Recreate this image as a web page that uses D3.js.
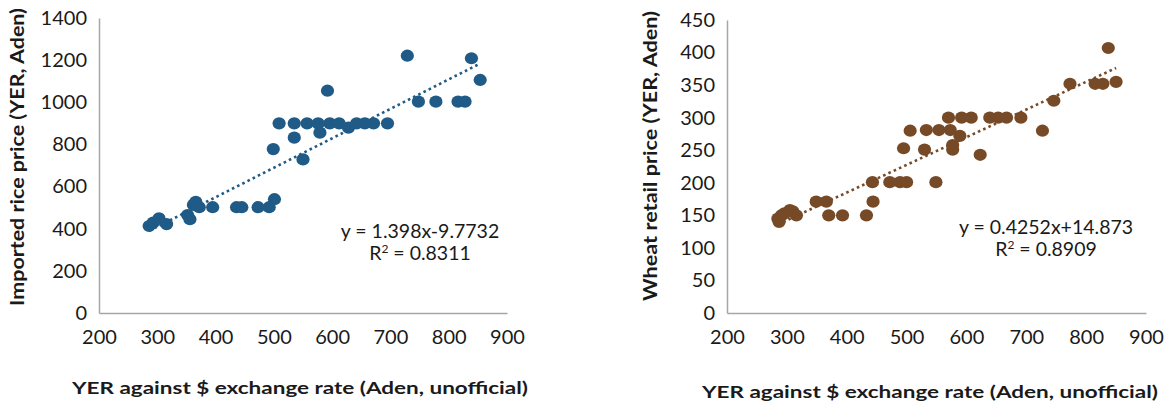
<!DOCTYPE html>
<html>
<head>
<meta charset="utf-8">
<script src="https://cdn.jsdelivr.net/npm/d3@7"></script>
<style>
  html, body { margin: 0; padding: 0; background: #fff; }
  svg { display: block; }
  text { font-family: "Lato", "Open Sans", sans-serif; fill: #1a1a1a; }
</style>
</head>
<body>
<svg id="chart" width="1169" height="404"></svg>
<script>
// Exchange rate (YER per $, Aden, unofficial) vs. imported rice price
const riceX = [286, 293, 303, 316, 352, 356, 362, 366, 372, 395, 436, 445, 473, 492, 501, 499,
               509, 535, 535, 550, 557, 576, 579, 592, 596, 612, 628, 642, 656, 671, 695, 729,
               748, 778, 816, 828, 839, 854];
const riceY = [413, 429, 449, 422, 465, 445, 513, 528, 502, 502, 502, 502, 502, 502, 540, 778,
               900, 832, 900, 729, 900, 900, 856, 1055, 900, 900, 880, 900, 900, 900, 900, 1221,
               1003, 1003, 1003, 1003, 1209, 1106];

// Exchange rate vs. wheat retail price
const wheatX = [285, 287, 291, 296, 305, 310, 316, 349, 366, 370, 393, 433, 444, 443, 472, 489,
                500, 549, 495, 506, 530, 533, 554, 573, 570, 577, 577, 589, 592, 608, 623, 639,
                653, 667, 691, 727, 746, 773, 815, 828, 837, 850];
const wheatY = [145, 140, 150, 153, 158, 156, 150, 171, 171, 150, 150, 150, 171, 201, 201, 201,
                201, 201, 253, 280, 251, 281, 281, 281, 300, 258, 251, 272, 300, 300, 243, 300,
                300, 300, 300, 280, 326, 352, 352, 352, 407, 355];

// Linear trend fits
const riceFit = { slope: 1.398, intercept: -9.7732, r2: "0.8311", eq: "y = 1.398x-9.7732" };
const wheatFit = { slope: 0.4252, intercept: 14.873, r2: "0.8909", eq: "y = 0.4252x+14.873" };

// Axis ticks
const xTicks = [200, 300, 400, 500, 600, 700, 800, 900];
const riceTicks = [0, 200, 400, 600, 800, 1000, 1200, 1400];
const wheatTicks = [0, 50, 100, 150, 200, 250, 300, 350, 400, 450];

const xTitle = "YER against $ exchange rate (Aden, unofficial)";

const svg = d3.select("#chart");

function panel(cfg) {
  const g = svg.append("g");
  const x = d3.scaleLinear().domain([200, 900]).range([cfg.left, cfg.right]);
  const y = d3.scaleLinear().domain([0, cfg.yMax]).range([cfg.bottom, cfg.top]);

  // y axis
  const ya = g.append("g").attr("transform", `translate(${cfg.left},0)`)
    .call(d3.axisLeft(y).tickValues(cfg.yTicks).tickFormat(d3.format("d")).tickSize(0).tickPadding(12));
  ya.select(".domain").attr("stroke", "#a6a6a6").attr("stroke-width", 1.5);
  ya.selectAll("text").style("font-size", "20px").style("font-family", "Lato, sans-serif").attr("fill", "#1a1a1a");

  // x axis
  const xa = g.append("g").attr("transform", `translate(0,${cfg.bottom})`)
    .call(d3.axisBottom(x).tickValues(xTicks).tickFormat(d3.format("d")).tickSize(0).tickPadding(17));
  xa.select(".domain").attr("stroke", "#a6a6a6").attr("stroke-width", 1.5);
  xa.selectAll("text").style("font-size", "20px").style("font-family", "Lato, sans-serif").attr("fill", "#1a1a1a");

  // points
  const pts = cfg.xs.map((v, i) => [v, cfg.ys[i]]);
  g.append("g").selectAll("ellipse").data(pts).join("ellipse")
    .attr("cx", d => x(d[0])).attr("cy", d => y(d[1]))
    .attr("rx", 6.6).attr("ry", 6.1)
    .attr("fill", cfg.color);

  // dotted trend line across the data range
  const [x0, x1] = d3.extent(cfg.xs);
  const f = v => cfg.fit.slope * v + cfg.fit.intercept;
  g.append("line")
    .attr("x1", x(x0)).attr("y1", y(f(x0)))
    .attr("x2", x(x1)).attr("y2", y(f(x1)))
    .attr("stroke", cfg.color).attr("stroke-width", 2.6)
    .attr("stroke-dasharray", "2.6,3.2");

  // equation labels
  g.append("text").attr("x", cfg.eqX).attr("y", cfg.eqY)
    .attr("text-anchor", "middle").style("font-size", "19.5px").text(cfg.fit.eq);
  const r = g.append("text").attr("x", cfg.eqX).attr("y", cfg.eqY + 22)
    .attr("text-anchor", "middle").style("font-size", "19.5px");
  r.append("tspan").text("R");
  r.append("tspan").attr("dy", -7).style("font-size", "12px").text("2");
  r.append("tspan").attr("dy", 7).text(" = " + cfg.fit.r2);

  // axis titles
  g.append("text")
    .attr("transform", `translate(${cfg.yTitleX},${cfg.yTitleY}) rotate(-90)`)
    .attr("text-anchor", "middle").style("font-size", "18px").style("font-weight", "bold")
    .attr("textLength", cfg.yTitleLen).attr("lengthAdjust", "spacingAndGlyphs")
    .text(cfg.yTitle);
  g.append("text")
    .attr("x", cfg.xTitleX).attr("y", cfg.xTitleY)
    .attr("text-anchor", "middle").style("font-size", "17.5px").style("font-weight", "bold")
    .attr("textLength", 456).attr("lengthAdjust", "spacingAndGlyphs")
    .text(xTitle);
}

panel({
  left: 99, right: 507, top: 18, bottom: 313, yMax: 1400, yTicks: riceTicks,
  xs: riceX, ys: riceY, fit: riceFit, color: "#1f5b86",
  eqX: 420, eqY: 238,
  yTitle: "Imported rice price (YER, Aden)", yTitleX: 24, yTitleY: 157, yTitleLen: 298,
  xTitleX: 300, xTitleY: 394
});

panel({
  left: 727, right: 1146, top: 20, bottom: 313, yMax: 450, yTicks: wheatTicks,
  xs: wheatX, ys: wheatY, fit: wheatFit, color: "#774a27",
  eqX: 1046, eqY: 234,
  yTitle: "Wheat retail price (YER, Aden)", yTitleX: 657, yTitleY: 156, yTitleLen: 290,
  xTitleX: 930, xTitleY: 398
});
</script>
</body>
</html>
